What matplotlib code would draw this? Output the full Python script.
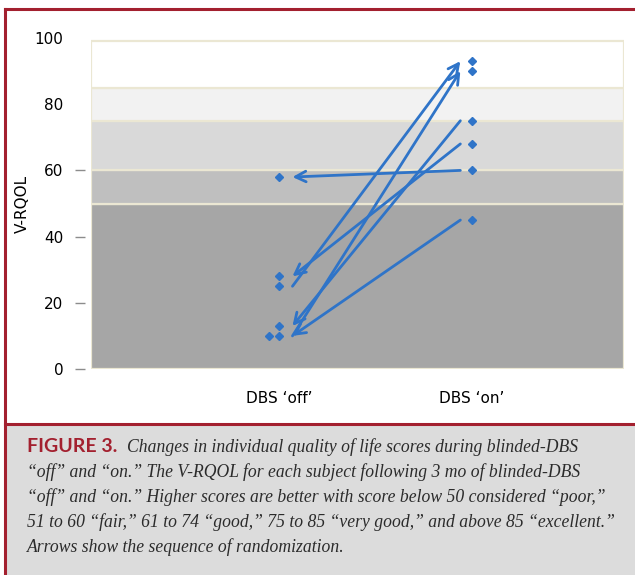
import numpy as np
import matplotlib.pyplot as plt
from matplotlib.patches import Rectangle
from matplotlib.lines import Line2D

# scores, one entry per subject
off_scores = [58, 10, 28, 25, 10, 13]
on_scores = [60, 45, 68, 93, 90, 75]
# which condition came first for each subject (arrow goes from first to second)
first = ['on', 'on', 'on', 'off', 'off', 'on']

categories = ['DBS \u2018off\u2019', 'DBS \u2018on\u2019']

# quality-of-life bands: poor, fair, good, very good, excellent
band_edges = [0, 50, 60, 75, 85, 99]
band_colors = ['#a6a6a6', '#bfbfbf', '#d9d9d9', '#f2f2f2', '#ffffff']

caption_lines = [
    'Changes in individual quality of life scores during blinded-DBS',
    '\u201coff\u201d and \u201con.\u201d The V-RQOL for each subject following 3 mo of blinded-DBS',
    '\u201coff\u201d and \u201con.\u201d Higher scores are better with score below 50 considered \u201cpoor,\u201d',
    '51 to 60 \u201cfair,\u201d 61 to 74 \u201cgood,\u201d 75 to 85 \u201cvery good,\u201d and above 85 \u201cexcellent.\u201d',
    'Arrows show the sequence of randomization.',
]

blue = '#2f74c8'
red = '#a3202f'

fig = plt.figure(figsize=(6.35, 5.75), dpi=100)
W, H = 635, 575

# caption box and red frame
fig.patches.append(Rectangle((5 / W, 0), 1, (H - 424) / H, transform=fig.transFigure,
                             facecolor='#dcdcdc', edgecolor='none', zorder=0))
for xs, ys in [([5, 635], [9, 9]), ([5, 5], [9, 575]), ([5, 635], [424, 424])]:
    fig.lines.append(Line2D([x / W for x in xs], [1 - y / H for y in ys],
                            transform=fig.transFigure, color=red, lw=2.2))

ax = fig.add_axes([91 / W, 206 / H, 533 / W, 331 / H])
xmin, xmax = -0.974, 1.788
ax.set_xlim(xmin, xmax)
ax.set_ylim(0, 100)

for lo, hi, c in zip(band_edges[:-1], band_edges[1:], band_colors):
    ax.add_patch(Rectangle((xmin, lo), xmax - xmin, hi - lo, facecolor=c,
                           edgecolor='#ebe7d3', lw=1.6, zorder=1))

# markers, duplicates nudged to the left
for xpos, scores in [(0, off_scores), (1, on_scores)]:
    seen = {}
    for s in scores:
        k = seen.get(s, 0)
        seen[s] = k + 1
        ax.plot(xpos - 0.05 * k, s, marker='D', ms=4.5, color=blue, zorder=4)

# arrows showing the sequence
for o, n, f in zip(off_scores, on_scores, first):
    p_off = (0.07, o)
    p_on = (0.94, n)
    start, end = (p_off, p_on) if f == 'off' else (p_on, p_off)
    ax.annotate('', xy=end, xytext=start,
                arrowprops=dict(arrowstyle='->,head_length=0.75,head_width=0.38',
                                color=blue, lw=2, shrinkA=0, shrinkB=0), zorder=3)

for s in ax.spines.values():
    s.set_visible(False)
ax.spines['left'].set_position(('outward', 4))

ax.set_yticks(range(0, 101, 20))
ax.tick_params(axis='y', length=7, width=1, color='#8c8c8c', pad=9, labelsize=11)
for t in ax.yaxis.get_major_ticks()[4:]:
    t.tick1line.set_visible(False)
ax.set_xticks([0, 1])
ax.set_xticklabels(categories)
ax.tick_params(axis='x', length=0, pad=16, labelsize=11)
ax.set_ylabel('V-RQOL', fontsize=11)
ax.yaxis.set_label_coords(-0.114, 0.5)

# caption text
line_y = [447, 472, 497, 522, 547]
r = fig.canvas.get_renderer()
lab = fig.text(27 / W, 1 - line_y[0] / H, 'FIGURE 3.', color=red, fontsize=14,
               fontweight='bold', family='Lato', va='center')
bb = lab.get_window_extent(renderer=r)
x0 = (bb.x1 + 10) / W
for i, (txt, y) in enumerate(zip(caption_lines, line_y)):
    fig.text(x0 if i == 0 else 27 / W, 1 - y / H, txt, fontsize=12.7,
             style='italic', family='Liberation Serif', color='#2b2b2b', va='center')

fig.savefig('out.png', dpi=100)
